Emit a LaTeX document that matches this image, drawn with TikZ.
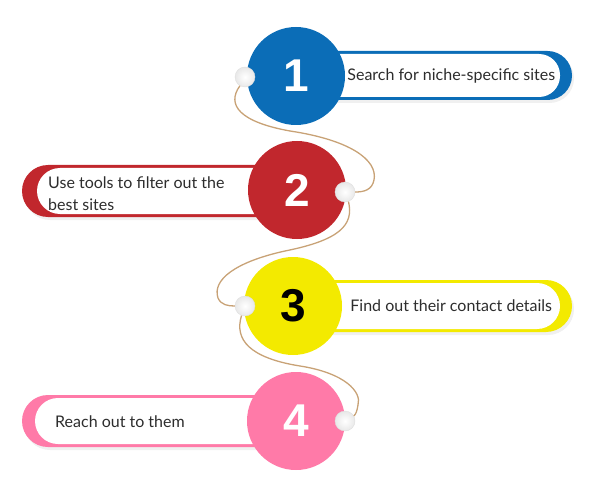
\documentclass[tikz,border=0pt]{standalone}
\usepackage{fontspec}
\setmainfont{Lato}
\newfontfamily\numfont{Liberation Sans}
\usetikzlibrary{positioning,calc,shadows}
\definecolor{stepblue}{RGB}{11,109,183}
\definecolor{stepred}{RGB}{193,39,45}
\definecolor{stepyellow}{RGB}{243,234,0}
\definecolor{steppink}{RGB}{255,122,168}
\definecolor{threadtan}{RGB}{200,162,118}
\definecolor{textgray}{RGB}{45,45,45}
\newcommand*{\stepnum}[1]{{\numfont\fontsize{46}{46}\selectfont\bfseries #1}}

\begin{document}
\begin{tikzpicture}[x=1pt,y=-1pt,
  stepcircle/.style={circle,minimum size=98pt,inner sep=0pt,text=white},
  knob/.style={circle,minimum size=20pt,inner sep=0pt,draw=gray!25,
    inner color=white,outer color=gray!18},
  pillshadow/.style={drop shadow={opacity=0.12,shadow xshift=2pt,shadow yshift=-3pt}},
  thread/.style={draw=threadtan,line width=1.3pt},
  steptext/.style={font=\fontsize{16}{22}\selectfont,text=textgray,
    align=left,anchor=west,inner sep=0pt}]
\useasboundingbox (0,0) rectangle (592,500);
% Pills behind the circles: coloured outer band, white inner band
\fill[stepblue,pillshadow,rounded corners=24.5pt] (300,51) rectangle (572,100);
\fill[white,rounded corners=21pt] (300,54) rectangle (560,97);
\fill[stepred,pillshadow,rounded corners=26pt] (22,165) rectangle (300,217);
\fill[white,rounded corners=23pt] (37,168) rectangle (300,214);
\fill[stepyellow,pillshadow,rounded corners=26pt] (300,280) rectangle (572,332);
\fill[white,rounded corners=23pt] (300,283) rectangle (560,329);
\fill[steppink,pillshadow,rounded corners=26pt] (22,395) rectangle (300,447);
\fill[white,rounded corners=23pt] (35,398) rectangle (300,444);
% Numbered circles
\node[stepcircle,fill=stepblue] (circ1) at (296,76) {\stepnum{1}};
\node[stepcircle,fill=stepred] (circ2) at (297,190) {\stepnum{2}};
\node[stepcircle,fill=stepyellow,text=black] (circ3) at (293,306) {\stepnum{3}};
\node[stepcircle,fill=steppink] (circ4) at (296,421) {\stepnum{4}};
% Texts in the pills
\node[steptext,right=2pt of circ1] (text1) {Search for niche-specific sites};
\node[steptext] (text2) at (48,194) {Use tools to filter out the\\best sites};
\node[steptext,right=8pt of circ3] (text3) {Find out their contact details};
\node[steptext] (text4) at (55,422) {Reach out to them};
% Small knobs on the circles
\node[knob] (knob1) at (245,77) {};
\node[knob] (knob2) at (345,192) {};
\node[knob] (knob3) at (245,306) {};
\node[knob] (knob4) at (345,421) {};
% Thread winding from knob to knob
\draw[thread] (knob1.240) .. controls (226,105) and (240,122) .. (290,131)
  .. controls (350,140) and (378,160) .. (374,180)
  .. controls (372,190) and (364,192) .. (knob2.east);
\draw[thread] (knob2.290) .. controls (354,225) and (340,240) .. (285,251)
  .. controls (235,262) and (212,280) .. (218,298)
  .. controls (221,305) and (228,306) .. (knob3.west);
\draw[thread] (knob3.250) .. controls (234,340) and (250,358) .. (300,366)
  .. controls (345,373) and (362,392) .. (358,405)
  .. controls (357,411) and (356,414) .. (knob4.30);
\end{tikzpicture}
\end{document}
